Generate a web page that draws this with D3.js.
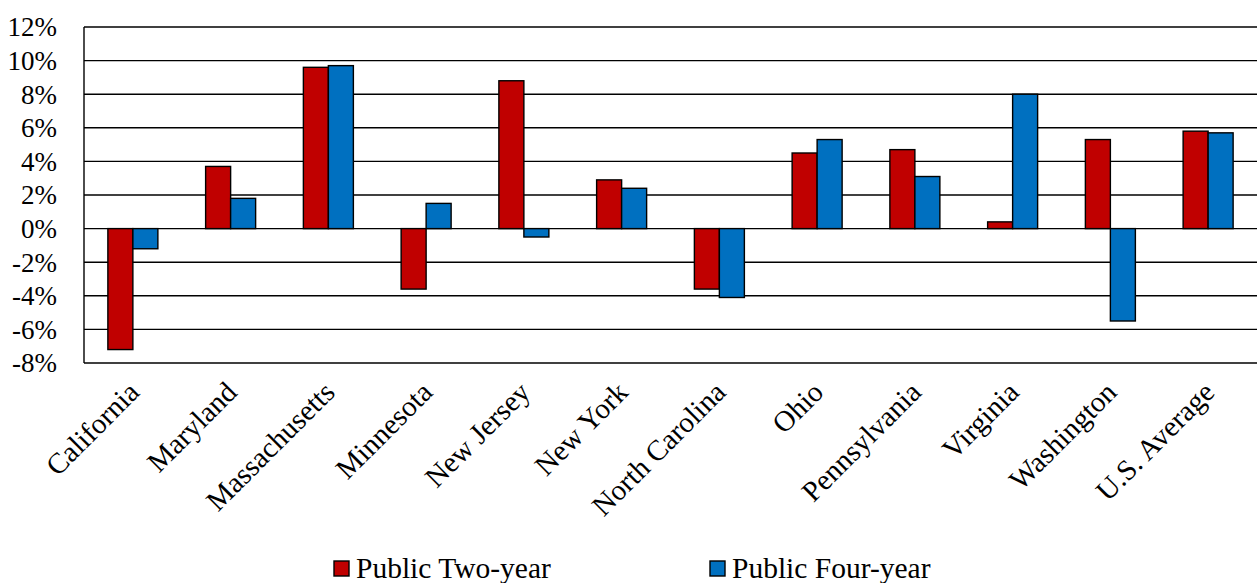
<!DOCTYPE html>
<meta charset="utf-8">
<style>
  body { margin: 0; background: #fff; }
  text { font-family: "Liberation Serif", "Times New Roman", serif; fill: #000; }
</style>
<body>
<script src="https://d3js.org/d3.v7.min.js"></script>
<script>
var categories = ["California", "Maryland", "Massachusetts", "Minnesota", "New Jersey", "New York",
    "North Carolina", "Ohio", "Pennsylvania", "Virginia", "Washington", "U.S. Average"];
var seriesNames = ["Public Two-year", "Public Four-year"];
var twoYear = [-7.2, 3.7, 9.6, -3.6, 8.8, 2.9, -3.6, 4.5, 4.7, 0.4, 5.3, 5.8];
var fourYear = [-1.2, 1.8, 9.7, 1.5, -0.5, 2.4, -4.1, 5.3, 3.1, 8.0, -5.5, 5.7];
var yTicks = [-8, -6, -4, -2, 0, 2, 4, 6, 8, 10, 12];
var colors = ["#C00000", "#0070C0"];

var width = 1257,
    height = 583,
    plotLeft = 84,
    plotTop = 27,
    plotBottom = 363;

var svg = d3.select("body").append("svg")
    .attr("width", width)
    .attr("height", height);

var y = d3.scaleLinear().domain([-8, 12]).range([plotBottom, plotTop]);

var x0 = d3.scaleBand().domain(categories).range([plotLeft, width])
    .paddingInner(0.4885).paddingOuter(0.4885 / 2);
var x1 = d3.scaleBand().domain(seriesNames).range([0, x0.bandwidth()]);

// gridlines
svg.append("g").selectAll("line")
    .data(yTicks)
    .enter().append("line")
    .attr("x1", plotLeft).attr("x2", width)
    .attr("y1", function(d) { return y(d); })
    .attr("y2", function(d) { return y(d); })
    .attr("stroke", "#000")
    .attr("stroke-width", 1.4);

// y axis labels
svg.append("g").selectAll("text")
    .data(yTicks)
    .enter().append("text")
    .attr("x", 57)
    .attr("y", function(d) { return y(d); })
    .attr("dy", "0.35em")
    .attr("text-anchor", "end")
    .style("font-size", "27px")
    .text(function(d) { return d + "%"; });

// y axis line
svg.append("line")
    .attr("x1", plotLeft).attr("x2", plotLeft)
    .attr("y1", plotTop).attr("y2", plotBottom)
    .attr("stroke", "#000")
    .attr("stroke-width", 1.4);

// bars
var rows = categories.map(function(c, i) { return { cat: c, values: [twoYear[i], fourYear[i]] }; });

var groups = svg.append("g").selectAll("g")
    .data(rows)
    .enter().append("g")
    .attr("transform", function(d) { return "translate(" + x0(d.cat) + ",0)"; });

groups.selectAll("rect")
    .data(function(d) { return d.values.map(function(v, j) { return { s: seriesNames[j], v: v, j: j }; }); })
    .enter().append("rect")
    .attr("x", function(d) { return x1(d.s); })
    .attr("width", x1.bandwidth())
    .attr("y", function(d) { return y(Math.max(0, d.v)); })
    .attr("height", function(d) { return Math.abs(y(d.v) - y(0)); })
    .attr("fill", function(d) { return colors[d.j]; })
    .attr("stroke", "#000")
    .attr("stroke-width", 1.4);

// x labels
svg.append("g").selectAll("text")
    .data(categories)
    .enter().append("text")
    .attr("transform", function(d) {
        return "translate(" + (x0(d) + x0.bandwidth() / 2 + 8) + "," + 394 + ")rotate(-45)";
    })
    .attr("text-anchor", "end")
    .style("font-size", "29px")
    .text(function(d) { return d; });

// legend
var legendX = [334, 710];
var legend = svg.append("g").selectAll("g")
    .data(seriesNames)
    .enter().append("g")
    .attr("transform", function(d, i) { return "translate(" + legendX[i] + ",561)"; });

legend.append("rect")
    .attr("width", 15).attr("height", 15)
    .attr("fill", function(d, i) { return colors[i]; })
    .attr("stroke", "#000")
    .attr("stroke-width", 1.4);

legend.append("text")
    .attr("x", 22)
    .attr("y", 17)
    .style("font-size", "29.5px")
    .text(function(d) { return d; });
</script>
</body>
